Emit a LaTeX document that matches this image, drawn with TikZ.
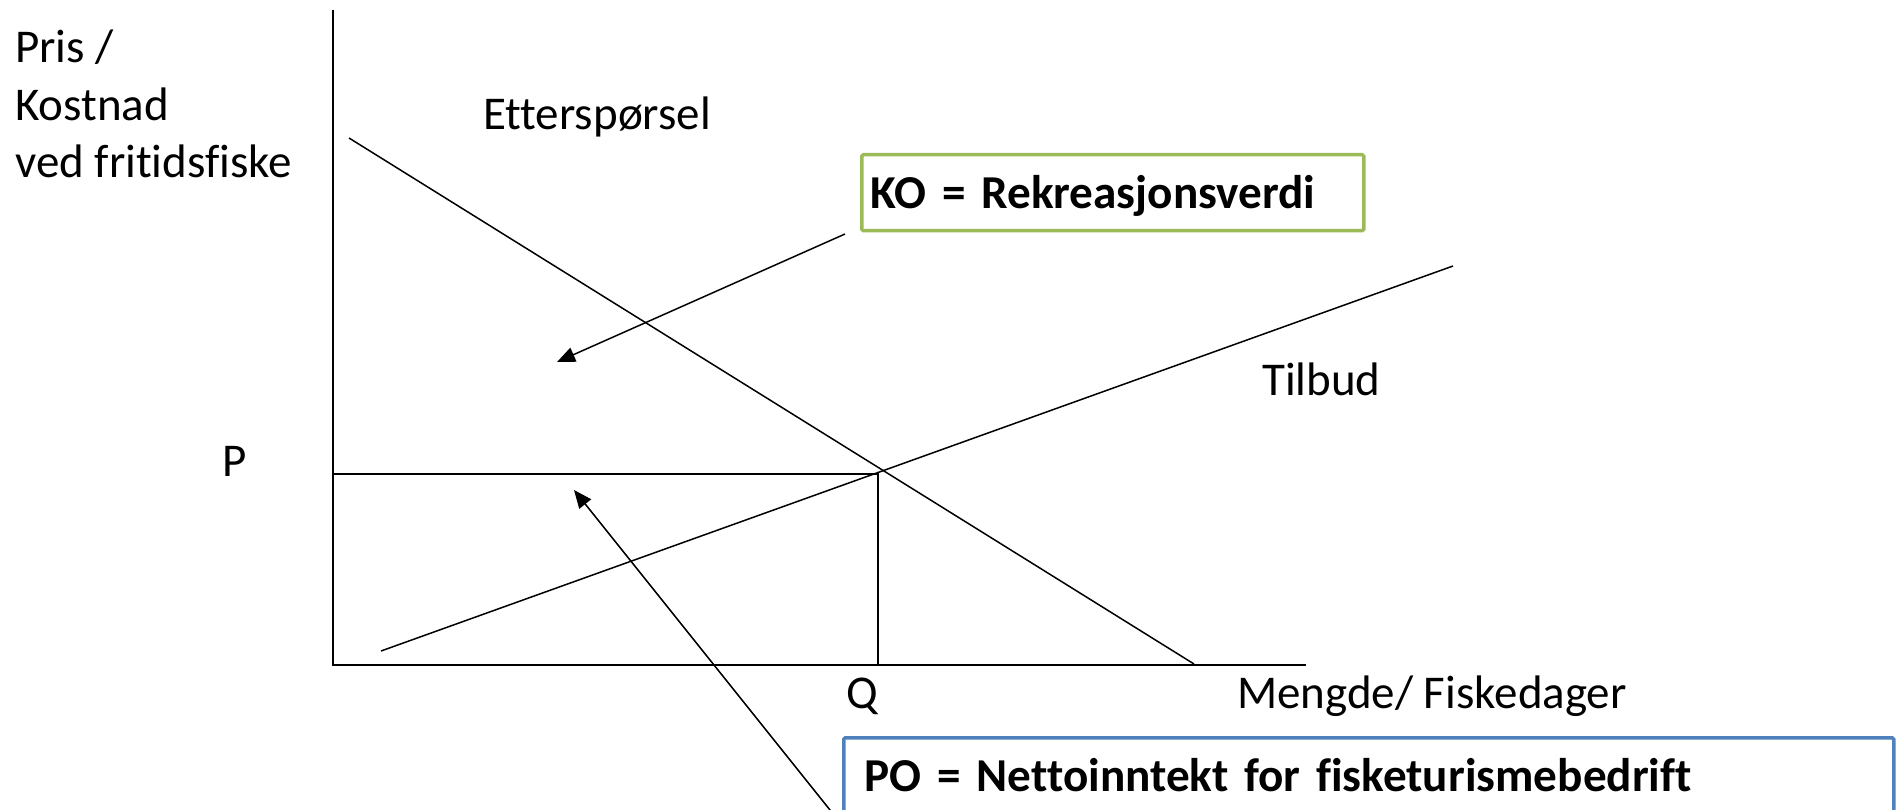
\documentclass[tikz,border=0pt]{standalone}
\usepackage{fontspec}
\setmainfont{Carlito}[Ligatures=NoCommon]
\newfontfamily\boxfont{Carlito Bold}[Ligatures=NoCommon,WordSpace=0.55]
\usetikzlibrary{arrows.meta}
\definecolor{kogreen}{HTML}{9BBB59}
\definecolor{poblue}{HTML}{4F81BD}
\begin{document}
\begin{tikzpicture}[x=1pt,y=-1pt,
  lbl/.style={anchor=base west,inner sep=0pt,font=\fontsize{47}{57.5}\selectfont},
  axis/.style={line width=2.7pt},
  curve/.style={line width=1.5pt},
  arr/.style={line width=1.5pt,-{Triangle[length=18pt,width=15pt]}},
  infobox/.style={line width=3.5pt,rounded corners=1.5pt,anchor=north west,
    font=\fontsize{47.2}{58}\boxfont,align=left,text height=31pt,text depth=0pt}]
\useasboundingbox (0,0) rectangle (1900,810);
\clip (0,0) rectangle (1900,810);
% axes
\coordinate (ytop) at (333,10);
\coordinate (origin) at (333,665);
\coordinate (xend) at (1306,665);
\draw[axis] (ytop) -- (origin) -- (xend);
% P and Q
\coordinate (pleft) at (333,474);
\coordinate (eq) at (878,474);
\coordinate (qbot) at (878,665);
\draw[axis] (pleft) -- (eq) -- (qbot);
% demand and supply
\coordinate (d1) at (349,138);
\coordinate (d2) at (1194,664);
\draw[curve] (d1) -- (d2);
\coordinate (s1) at (381,651);
\coordinate (s2) at (1453,266);
\draw[curve] (s1) -- (s2);
% labels
\node[lbl,align=left] (ylab) at (15,178) {Pris /\\Kostnad\\ved fritidsfiske};
\node[lbl] (dlab) at (483,130) {Etterspørsel};
\node[lbl] (slab) at (1262,395) {Tilbud};
\node[lbl] (plab) at (222,476) {P};
\node[lbl] (qlab) at (846,708) {Q};
\node[lbl] (xlab) at (1237,708) {Mengde/ Fiskedager};
% boxes
\node[infobox,draw=kogreen,inner xsep=9pt,inner ysep=22.5pt,text width=484pt,text depth=0pt,minimum height=76pt] (ko) at (860,153) {KO = Rekreasjonsverdi};
\node[infobox,draw=poblue,inner xsep=21pt,inner ysep=23pt,text width=1008pt,text depth=70pt] (po) at (842,736) {PO = Nettoinntekt for fisketurismebedrift};
% arrows
\coordinate (kostart) at (845,234);
\coordinate (kotip) at (557,362);
\draw[arr] (kostart) -- (kotip);
\coordinate (postart) at (846,830);
\coordinate (potip) at (574,490);
\draw[arr] (postart) -- (potip);
\end{tikzpicture}
\end{document}
